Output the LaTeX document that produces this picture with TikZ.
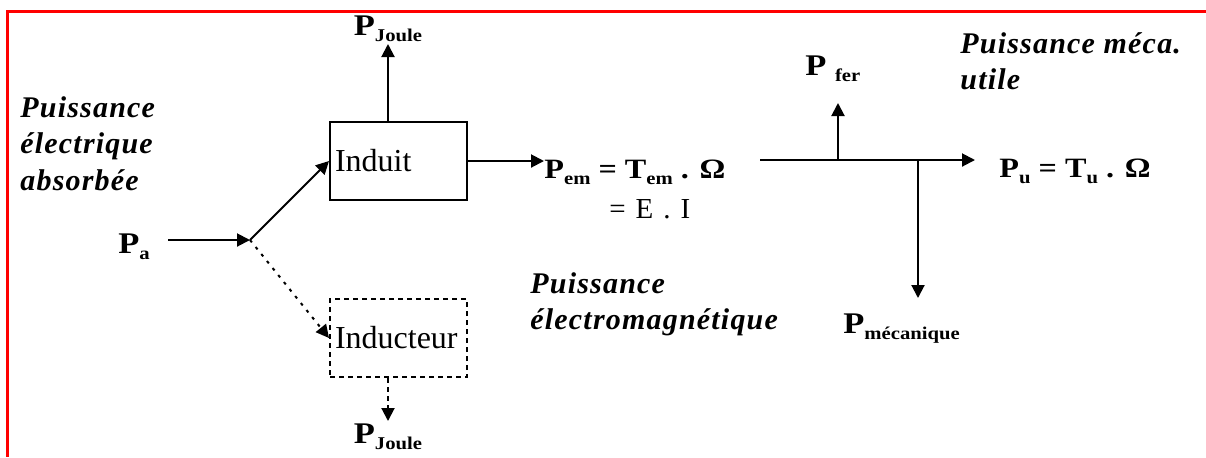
\documentclass[tikz,border=0pt]{standalone}
\usepackage{fontspec}
\setmainfont{Liberation Serif}
\newfontfamily\grasfont[FakeStretch=1.15]{Liberation Serif}
\newfontfamily\italfont[LetterSpace=4]{Liberation Serif}
\usetikzlibrary{arrows.meta}
\newcommand{\indice}[1]{\raisebox{-3pt}{\fontsize{9}{9}\selectfont #1}}

\begin{document}
\begin{tikzpicture}[
    x=0.5pt, y=-0.5pt,
    >={Triangle[length=6.5pt,width=6.5pt]},
    bloc/.style={
        draw,
        line width=1pt,
        minimum height=39pt,
        text width=63.5pt,
        inner xsep=2.5pt,
        align=left,
        font=\fontsize{16}{19}\selectfont
    },
    fleche/.style={
        ->,
        line width=1pt
    },
    grandeur/.style={
        inner sep=1pt,
        font=\grasfont\bfseries\fontsize{15}{18}\selectfont
    },
    formule/.style={
        inner sep=0pt,
        font=\grasfont\bfseries\fontsize{14}{16}\selectfont
    },
    titre/.style={
        align=left,
        inner sep=0pt,
        font=\italfont\bfseries\itshape\fontsize{15}{18.25}\selectfont
    }
]

\useasboundingbox (0,0) rectangle (1206,457);

% cadre
\draw[red, line width=1.5pt] (1206,11) -- (7,11) -- (7,457);

% =====================
% BLOCS
% =====================
\node[bloc] at (398.5,161) (induit) {Induit};
\node[bloc, dash pattern=on 2.5pt off 2pt] at (398.5,338) (inducteur) {Inducteur};

% =====================
% GRANDEURS
% =====================
\node[grandeur, anchor=base west] at (116,253) (pa) {P\indice{a}};
\node[grandeur, anchor=south] at (388,44) (pjh) {P\indice{Joule}};
\node[grandeur, anchor=north] at (388,421) (pjb) {P\indice{Joule}};
\node[grandeur, anchor=base west] at (803,75) (pfer) {P \indice{fer}};
\node[grandeur, anchor=base west] at (841,333) (pmeca) {P\indice{mécanique}};

\node[formule, anchor=base west] at (544,178) (pem) {P\indice{em} = T\indice{em} . Ω};
\node[anchor=base west, inner sep=0pt, font=\fontsize{14.5}{16}\selectfont] at (609,218) (ei) {=\hspace{5pt}E\hspace{5pt}.\hspace{5pt}I};
\node[formule, anchor=base west] at (999,177) (pu) {P\indice{u} = T\indice{u} . Ω};

% =====================
% TEXTES
% =====================
\node[titre, anchor=north west] at (20,96) (tabs) {Puissance\\électrique\\absorbée};
\node[titre, anchor=north west] at (530,272) (tem) {Puissance\\électromagnétique};
\node[titre, anchor=north west] at (960,32) (tutile) {Puissance méca.\\utile};

% =====================
% FLECHES
% =====================
\coordinate (jonction) at (250,240);
\coordinate (depart) at (760,160);
\coordinate (bfer) at (838,160);
\coordinate (bmeca) at (918,160);
\coordinate (tfer) at (838,103);
\coordinate (tmeca) at (918,298);

\draw[fleche, shorten <=8pt] (pa.east |- jonction) -- (jonction);
\draw[fleche] (jonction) -- (induit.west);
\draw[fleche, dash pattern=on 1.5pt off 3pt] (jonction) -- (inducteur.west);
\draw[fleche] (pjh.south |- induit.north) -- (pjh.south);
\draw[fleche, dash pattern=on 2.5pt off 2pt] (pjb.north |- inducteur.south) -- (pjb.north);
\draw[fleche] (induit.east) -- (pem.west |- induit.east);
\draw[fleche, shorten >=12pt] (depart) -- (pu.west |- depart);
\draw[fleche] (bfer) -- (tfer);
\draw[fleche] (bmeca) -- (tmeca);

\end{tikzpicture}
\end{document}
